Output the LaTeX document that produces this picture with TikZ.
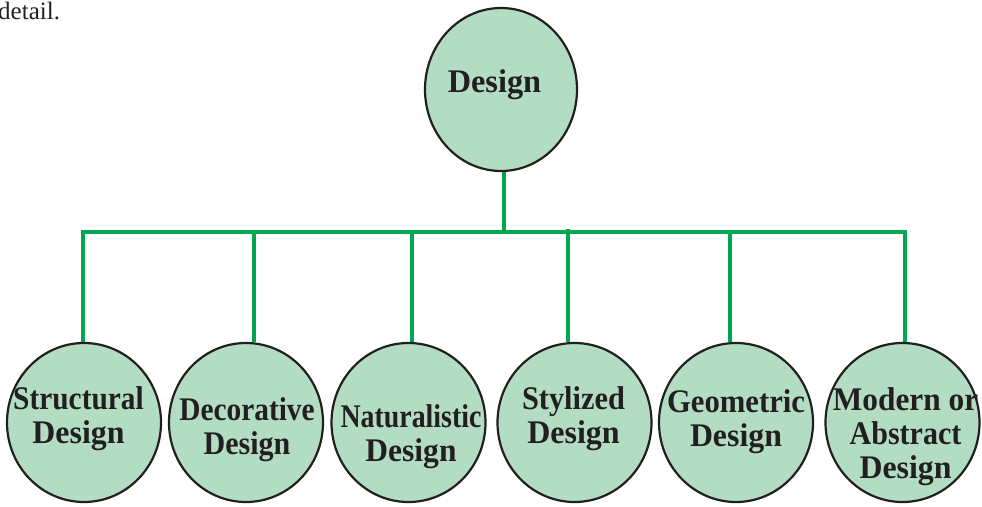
\documentclass[tikz,border=0pt]{standalone}
\usepackage{fontspec}
\usepackage{graphicx}
\setmainfont{Liberation Serif}
\usetikzlibrary{shapes.geometric}
\definecolor{nodefill}{HTML}{B2DDC2}
\definecolor{linkgreen}{HTML}{00A650}
\definecolor{inkdark}{HTML}{231F20}
\newcommand{\sx}[2]{\scalebox{#1}[1]{#2}}
\tikzset{
  bubble/.style={ellipse, draw=inkdark, line width=2.2pt, fill=nodefill,
    inner sep=0pt, minimum width=154pt, minimum height=159pt},
  toplabel/.style={text=inkdark, inner sep=0pt, align=center,
    font=\bfseries\fontsize{33}{34}\selectfont},
  link/.style={draw=linkgreen, line width=4.5pt, line cap=butt},
}
\begin{document}
\begin{tikzpicture}[x=1pt,y=-1pt]
\useasboundingbox (0,0) rectangle (982,506);
% stray text from page
\node[anchor=base west, inner sep=0pt, text=inkdark,
  font=\fontsize{25}{29}\selectfont] (detail) at (-2,19) {detail.};
% coordinates on the bar
\coordinate (s) at (504,232);
\coordinate (bl) at (81,232);
\coordinate (br) at (907,232);
\coordinate (b1) at (83,232);
\coordinate (b2) at (254,232);
\coordinate (b3) at (412,232);
\coordinate (b4) at (568,229);
\coordinate (b5) at (730,232);
\coordinate (b6) at (905,232);
% bubbles (positions first, drawn later)
\path (501,89.5) node[bubble, minimum width=152pt, minimum height=163pt, draw=none, fill=none] (top) {};
\path (84,422.5) node[bubble, draw=none, fill=none] (c1) {};
\path (246,422.5) node[bubble, draw=none, fill=none] (c2) {};
\path (408.5,422.5) node[bubble, draw=none, fill=none] (c3) {};
\path (574.5,422.5) node[bubble, draw=none, fill=none] (c4) {};
\path (736,422.5) node[bubble, draw=none, fill=none] (c5) {};
\path (902.5,422.5) node[bubble, draw=none, fill=none] (c6) {};
% connectors
\draw[link] (s |- top.south) -- (s);
\draw[link] (bl) -- (br);
\draw[link] (b1) -- (b1 |- c1.north);
\draw[link] (b2) -- (b2 |- c2.north);
\draw[link] (b3) -- (b3 |- c3.north);
\draw[link] (b4) -- (b4 |- c4.north);
\draw[link] (b5) -- (b5 |- c5.north);
\draw[link] (b6) -- (b6 |- c6.north);
% visible bubbles
\node[bubble, minimum width=152pt, minimum height=163pt] (topv) at (top) {};
\node[bubble] (c1v) at (c1) {};
\node[bubble] (c2v) at (c2) {};
\node[bubble] (c3v) at (c3) {};
\node[bubble] (c4v) at (c4) {};
\node[bubble] (c5v) at (c5) {};
\node[bubble] (c6v) at (c6) {};
% labels
\node[toplabel, anchor=base] (t0) at (494.5,92) {\sx{0.98}{Design}};
\node[toplabel] (t1) at (78.5,418.5) {\sx{0.89}{Structural}\\\sx{0.965}{Design}};
\node[toplabel] (t2) at (247,429.5) {\sx{0.89}{Decorative}\\\sx{0.91}{Design}};
\node[toplabel] (t3) at (411,436.5) {\sx{0.845}{Naturalistic}\\\sx{0.955}{Design}};
\node[toplabel] (t4) at (573.5,419) {\sx{0.92}{Stylized}\\\sx{0.97}{Design}};
\node[toplabel] (t5) at (736,422) {\sx{0.93}{Geometric}\\\sx{0.965}{Design}};
\node[toplabel] (t6) at (905.5,436.5) {\sx{0.95}{Modern or}\\\sx{0.91}{Abstract}\\\sx{0.965}{Design}};
\end{tikzpicture}
\end{document}
